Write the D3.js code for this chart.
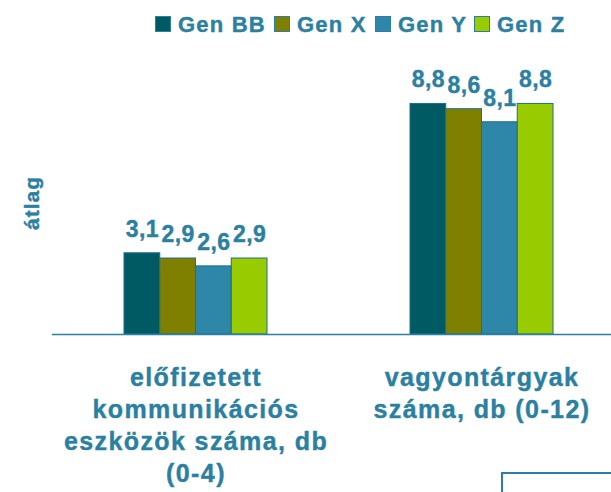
<!DOCTYPE html>
<html><head><meta charset="utf-8">
<script src="https://cdn.jsdelivr.net/npm/d3@7"></script>
<style>
body{margin:0;background:#fff;}
text{font-family:"Liberation Sans",Arial,sans-serif;font-weight:bold;fill:#2b7fa1;stroke:#2b7fa1;stroke-width:0.4px;}
</style></head>
<body><svg id="c" width="611" height="492"></svg>
<script>
const categories = ["előfizetett kommunikációs eszközök száma, db (0-4)", "vagyontárgyak száma, db (0-12)"];
const categoryLines = [["előfizetett","kommunikációs","eszközök száma, db","(0-4)"],["vagyontárgyak","száma, db (0-12)"]];
const series = ["Gen BB","Gen X","Gen Y","Gen Z"];
const colors = ["#005a64","#808000","#2e86a8","#99cc00"];
const genBB = [3.1, 8.8];
const genX  = [2.9, 8.6];
const genY  = [2.6, 8.1];
const genZ  = [2.9, 8.8];
const values = [genBB, genX, genY, genZ];
const yTitle = "átlag";

const svg = d3.select("#c");
const x0 = d3.scaleBand().domain(categories).range([52, 624]).padding(0);
const x1 = d3.scaleBand().domain(series).range([72, 215]).padding(0);
const y = d3.scaleLinear().domain([0, 12]).range([334, 334 - 12*26.2]);
const color = d3.scaleOrdinal().domain(series).range(colors);
const fmt = v => d3.format(".1f")(v).replace(".", ",");

// bars
const g = svg.append("g");
categories.forEach((c, ci) => {
  series.forEach((s, si) => {
    const v = values[si][ci];
    g.append("rect")
      .attr("x", x0(c) + x1(s))
      .attr("y", y(v))
      .attr("width", x1.bandwidth())
      .attr("height", y(0) - y(v))
      .attr("fill", color(s))
      .attr("stroke", "#1d6e8a")
      .attr("stroke-width", 1);
  });
});
// value labels
categories.forEach((c, ci) => {
  series.forEach((s, si) => {
    const v = values[si][ci];
    svg.append("text")
      .attr("x", x0(c) + x1(s) + x1.bandwidth()/2 + 0.5)
      .attr("y", y(v) - 16)
      .attr("text-anchor", "middle")
      .style("font-size", "23px")
      .style("letter-spacing", "0.5px")
      .text(fmt(v));
  });
});
// axis line
svg.append("line").attr("x1", 52).attr("x2", 611).attr("y1", y(0)+0.5).attr("y2", y(0)+0.5)
  .attr("stroke", "#2b7fa1").attr("stroke-width", 1.5);

// category labels
categories.forEach((c, ci) => {
  const t = svg.append("text")
    .attr("text-anchor", "middle")
    .style("font-size", "25px")
    .style("letter-spacing", "1.4px");
  categoryLines[ci].forEach((ln, li) => {
    t.append("tspan").attr("x", x0(c) + x0.bandwidth()/2 + 1).attr("y", 386 + li*32).text(ln);
  });
});

// y title
svg.append("text")
  .attr("transform", "translate(39,203) rotate(-90)")
  .attr("text-anchor", "middle")
  .style("font-size", "21px")
  .style("letter-spacing", "1px")
  .text(yTitle);

// legend
const legX = [155, 274, 375, 474];
series.forEach((s, i) => {
  svg.append("rect").attr("x", legX[i]+0.5).attr("y", 16.5).attr("width", 15).attr("height", 15)
    .attr("fill", color(s)).attr("stroke", "#2b7fa1").attr("stroke-width", 1);
  svg.append("text").attr("x", legX[i] + 23).attr("y", 32)
    .style("font-size", "22px").style("letter-spacing", "1.2px").text(s);
});

// cut-off box bottom right
svg.append("rect").attr("x", 502).attr("y", 473).attr("width", 140).attr("height", 60)
  .attr("fill", "none").attr("stroke", "#2b7fa1").attr("stroke-width", 2);
</script></body></html>
